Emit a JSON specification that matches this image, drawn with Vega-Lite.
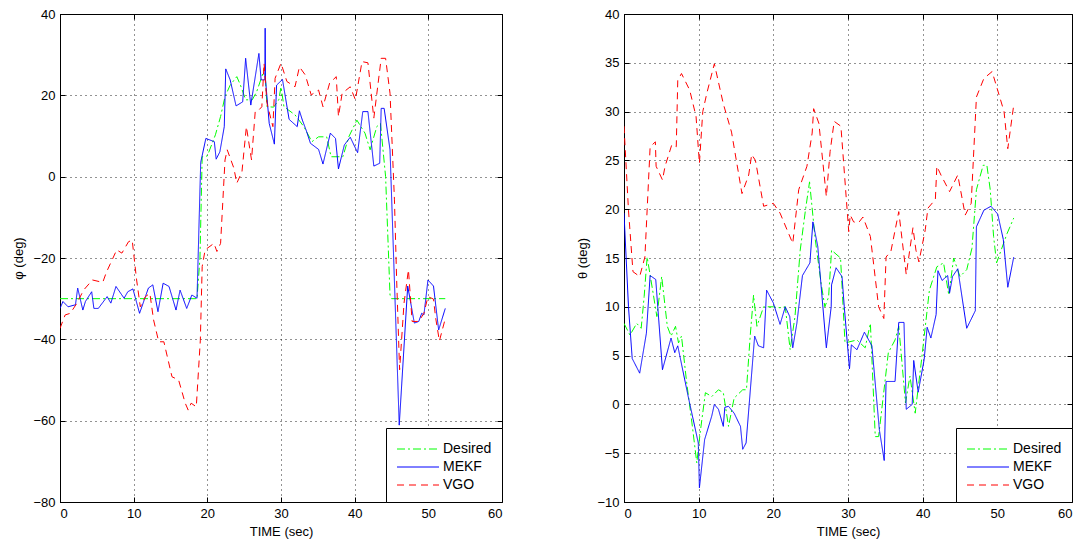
{
  "$schema": "https://vega.github.io/schema/vega-lite/v6.json",
  "background": "white",
  "padding": {"left": 12, "top": 7, "right": 0, "bottom": 5},
  "spacing": 73,
  "config": {
    "font": "Liberation Sans",
    "view": {"stroke": "black", "strokeWidth": 1},
    "axis": {
      "domain": true, "domainColor": "black",
      "grid": true, "gridColor": "black", "gridDash": [1, 4], "gridOpacity": 0.85,
      "tickColor": "black", "tickSize": -5,
      "labelFont": "Liberation Sans", "labelFontSize": 13, "labelColor": "black", "labelPadding": 10,
      "titleFont": "Liberation Sans", "titleFontSize": 13, "titleFontWeight": "normal", "titleColor": "black"
    },
    "axisY": {"titlePadding": 7},
    "axisX": {"titlePadding": 5},
    "legend": {
      "orient": "bottom-right", "offset": 0, "strokeColor": "black", "fillColor": "white",
      "padding": 10, "labelFontSize": 14, "labelFont": "Liberation Sans", "labelColor": "black",
      "symbolType": "M-2,0H2", "symbolSize": 441, "symbolStrokeWidth": 1,
      "symbolOffset": 11, "labelOffset": 14, "rowPadding": 0
    }
  },
  "datasets": {
    "phi": [
      {"s":"Desired","t":0,"v":-30},{"s":"Desired","t":18.6,"v":-30},{"s":"Desired","t":19.0,"v":-20},{"s":"Desired","t":19.3,"v":4.9},{"s":"Desired","t":20.0,"v":5.1},{"s":"Desired","t":21.1,"v":10.3},{"s":"Desired","t":21.8,"v":14.8},{"s":"Desired","t":22.4,"v":19.7},{"s":"Desired","t":23.1,"v":22.5},{"s":"Desired","t":24.0,"v":24.6},{"s":"Desired","t":24.5,"v":22.5},{"s":"Desired","t":25.2,"v":18.9},{"s":"Desired","t":26.1,"v":18.9},{"s":"Desired","t":26.7,"v":20.9},{"s":"Desired","t":27.4,"v":24.6},{"s":"Desired","t":27.8,"v":27},{"s":"Desired","t":28.1,"v":17.2},{"s":"Desired","t":29.0,"v":17.1},{"s":"Desired","t":29.7,"v":18.9},{"s":"Desired","t":30.0,"v":22.1},{"s":"Desired","t":30.4,"v":17.2},{"s":"Desired","t":31.9,"v":15.2},{"s":"Desired","t":33.1,"v":12.3},{"s":"Desired","t":34.2,"v":8.6},{"s":"Desired","t":35.1,"v":9.8},{"s":"Desired","t":36.2,"v":9.8},{"s":"Desired","t":36.8,"v":4.9},{"s":"Desired","t":38.4,"v":4.9},{"s":"Desired","t":39.2,"v":9.8},{"s":"Desired","t":40.3,"v":13.9},{"s":"Desired","t":41.4,"v":10.7},{"s":"Desired","t":42.1,"v":6.6},{"s":"Desired","t":43.0,"v":12.3},{"s":"Desired","t":43.5,"v":13.1},{"s":"Desired","t":44.2,"v":0},{"s":"Desired","t":44.8,"v":-29.1},{"s":"Desired","t":45.0,"v":-30},{"s":"Desired","t":52.3,"v":-30},
      {"s":"MEKF","t":0,"v":-32.4},{"s":"MEKF","t":0.4,"v":-30.7},{"s":"MEKF","t":1.1,"v":-32.0},{"s":"MEKF","t":2.1,"v":-31.5},{"s":"MEKF","t":2.4,"v":-27.4},{"s":"MEKF","t":3.1,"v":-32.8},{"s":"MEKF","t":3.45,"v":-30.7},{"s":"MEKF","t":4.3,"v":-28.3},{"s":"MEKF","t":4.6,"v":-32.4},{"s":"MEKF","t":5.2,"v":-32.4},{"s":"MEKF","t":6.4,"v":-29.5},{"s":"MEKF","t":6.9,"v":-31.1},{"s":"MEKF","t":7.6,"v":-27.0},{"s":"MEKF","t":8.7,"v":-29.9},{"s":"MEKF","t":9.2,"v":-28.3},{"s":"MEKF","t":9.9,"v":-27.6},{"s":"MEKF","t":10.8,"v":-33.6},{"s":"MEKF","t":12.0,"v":-27.4},{"s":"MEKF","t":12.6,"v":-26.6},{"s":"MEKF","t":13.3,"v":-33.2},{"s":"MEKF","t":14.0,"v":-26.2},{"s":"MEKF","t":14.8,"v":-27.0},{"s":"MEKF","t":15.75,"v":-32.8},{"s":"MEKF","t":16.3,"v":-27.9},{"s":"MEKF","t":17.2,"v":-32.4},{"s":"MEKF","t":17.9,"v":-29.1},{"s":"MEKF","t":18.6,"v":-29.9},{"s":"MEKF","t":19.1,"v":3.5},{"s":"MEKF","t":19.8,"v":9.4},{"s":"MEKF","t":20.95,"v":8.6},{"s":"MEKF","t":21.2,"v":4.3},{"s":"MEKF","t":21.7,"v":6.1},{"s":"MEKF","t":22.3,"v":12.3},{"s":"MEKF","t":22.5,"v":26.5},{"s":"MEKF","t":23.1,"v":23.8},{"s":"MEKF","t":23.9,"v":17.4},{"s":"MEKF","t":24.8,"v":18.4},{"s":"MEKF","t":25.2,"v":29.1},{"s":"MEKF","t":25.9,"v":17.6},{"s":"MEKF","t":27.0,"v":30.3},{"s":"MEKF","t":27.3,"v":23.8},{"s":"MEKF","t":27.8,"v":23.8},{"s":"MEKF","t":27.85,"v":36.5},{"s":"MEKF","t":27.9,"v":23.8},{"s":"MEKF","t":28.4,"v":13.1},{"s":"MEKF","t":29.1,"v":8.0},{"s":"MEKF","t":29.4,"v":22.5},{"s":"MEKF","t":30.2,"v":23.9},{"s":"MEKF","t":31.1,"v":14.1},{"s":"MEKF","t":32.2,"v":12.3},{"s":"MEKF","t":32.5,"v":16.2},{"s":"MEKF","t":32.9,"v":13.9},{"s":"MEKF","t":33.4,"v":11.5},{"s":"MEKF","t":34.0,"v":8.2},{"s":"MEKF","t":35.1,"v":6.7},{"s":"MEKF","t":35.7,"v":3.1},{"s":"MEKF","t":36.7,"v":10.7},{"s":"MEKF","t":37.4,"v":9.4},{"s":"MEKF","t":37.8,"v":1.9},{"s":"MEKF","t":38.6,"v":7.8},{"s":"MEKF","t":39.4,"v":9.7},{"s":"MEKF","t":40.4,"v":5.9},{"s":"MEKF","t":41.1,"v":16.0},{"s":"MEKF","t":41.8,"v":16.0},{"s":"MEKF","t":42.6,"v":2.6},{"s":"MEKF","t":43.4,"v":3.3},{"s":"MEKF","t":43.6,"v":16.8},{"s":"MEKF","t":44.0,"v":16.8},{"s":"MEKF","t":44.8,"v":6.6},{"s":"MEKF","t":46.05,"v":-61.1},{"s":"MEKF","t":47.2,"v":-26.9},{"s":"MEKF","t":48.1,"v":-36.0},{"s":"MEKF","t":48.7,"v":-35.6},{"s":"MEKF","t":49.1,"v":-33.6},{"s":"MEKF","t":49.4,"v":-34.0},{"s":"MEKF","t":49.95,"v":-25.4},{"s":"MEKF","t":50.7,"v":-26.9},{"s":"MEKF","t":51.4,"v":-37.7},{"s":"MEKF","t":52.3,"v":-32.4},
      {"s":"VGO","t":0,"v":-37.3},{"s":"VGO","t":0.7,"v":-34.0},{"s":"VGO","t":1.4,"v":-33.6},{"s":"VGO","t":2.3,"v":-31.1},{"s":"VGO","t":3.2,"v":-27.9},{"s":"VGO","t":4.4,"v":-25.4},{"s":"VGO","t":5.8,"v":-26.0},{"s":"VGO","t":6.3,"v":-23.5},{"s":"VGO","t":7.7,"v":-18.0},{"s":"VGO","t":8.4,"v":-18.8},{"s":"VGO","t":9.3,"v":-16.0},{"s":"VGO","t":9.8,"v":-15.6},{"s":"VGO","t":10.4,"v":-25.4},{"s":"VGO","t":10.9,"v":-32.0},{"s":"VGO","t":11.6,"v":-29.5},{"s":"VGO","t":12.2,"v":-28.7},{"s":"VGO","t":12.7,"v":-35.2},{"s":"VGO","t":13.4,"v":-40.6},{"s":"VGO","t":14.1,"v":-40.6},{"s":"VGO","t":15.2,"v":-49.2},{"s":"VGO","t":16.1,"v":-50.0},{"s":"VGO","t":17.0,"v":-55.7},{"s":"VGO","t":17.4,"v":-57.4},{"s":"VGO","t":17.8,"v":-55.7},{"s":"VGO","t":18.5,"v":-56.6},{"s":"VGO","t":19.05,"v":-40.2},{"s":"VGO","t":19.3,"v":-22.1},{"s":"VGO","t":19.7,"v":-18.0},{"s":"VGO","t":20.9,"v":-16.4},{"s":"VGO","t":21.3,"v":-18.4},{"s":"VGO","t":21.8,"v":-16.4},{"s":"VGO","t":22.4,"v":4.1},{"s":"VGO","t":22.7,"v":6.6},{"s":"VGO","t":23.6,"v":2.1},{"s":"VGO","t":24.0,"v":-1.6},{"s":"VGO","t":24.7,"v":1.2},{"s":"VGO","t":25.3,"v":12.3},{"s":"VGO","t":26.0,"v":4.1},{"s":"VGO","t":26.5,"v":16.0},{"s":"VGO","t":27.0,"v":16.4},{"s":"VGO","t":27.4,"v":17.2},{"s":"VGO","t":27.7,"v":27.9},{"s":"VGO","t":28.1,"v":18.0},{"s":"VGO","t":28.9,"v":12.3},{"s":"VGO","t":29.2,"v":24.2},{"s":"VGO","t":30.0,"v":27.9},{"s":"VGO","t":30.8,"v":23.4},{"s":"VGO","t":31.9,"v":22.1},{"s":"VGO","t":32.5,"v":27.0},{"s":"VGO","t":33.3,"v":25.0},{"s":"VGO","t":34.1,"v":20.1},{"s":"VGO","t":35.1,"v":21.3},{"s":"VGO","t":35.7,"v":17.2},{"s":"VGO","t":36.6,"v":23.0},{"s":"VGO","t":37.5,"v":24.6},{"s":"VGO","t":37.8,"v":14.8},{"s":"VGO","t":38.3,"v":20.5},{"s":"VGO","t":39.4,"v":22.1},{"s":"VGO","t":40.1,"v":18.9},{"s":"VGO","t":41.0,"v":28.3},{"s":"VGO","t":41.8,"v":28.0},{"s":"VGO","t":42.6,"v":14.4},{"s":"VGO","t":43.6,"v":29.1},{"s":"VGO","t":44.2,"v":29.1},{"s":"VGO","t":44.8,"v":20.5},{"s":"VGO","t":45.4,"v":-5.7},{"s":"VGO","t":45.7,"v":-25.4},{"s":"VGO","t":46.1,"v":-47.5},{"s":"VGO","t":46.7,"v":-31.1},{"s":"VGO","t":47.3,"v":-22.9},{"s":"VGO","t":47.8,"v":-35.6},{"s":"VGO","t":48.7,"v":-35.6},{"s":"VGO","t":49.4,"v":-33.6},{"s":"VGO","t":49.95,"v":-29.5},{"s":"VGO","t":50.7,"v":-30.1},{"s":"VGO","t":51.0,"v":-34.8},{"s":"VGO","t":51.5,"v":-40.4},{"s":"VGO","t":52.2,"v":-35.6}
    ],
    "theta": [
      {"s":"Desired","t":0,"v":8.3},{"s":"Desired","t":0.8,"v":7.1},{"s":"Desired","t":1.7,"v":8.3},{"s":"Desired","t":2.3,"v":7.8},{"s":"Desired","t":2.7,"v":11.05},{"s":"Desired","t":3.1,"v":15.1},{"s":"Desired","t":3.9,"v":11.4},{"s":"Desired","t":4.4,"v":9.0},{"s":"Desired","t":5.05,"v":13.1},{"s":"Desired","t":5.8,"v":8.0},{"s":"Desired","t":6.3,"v":7.0},{"s":"Desired","t":6.9,"v":8.0},{"s":"Desired","t":7.3,"v":6.3},{"s":"Desired","t":7.7,"v":7.0},{"s":"Desired","t":8.4,"v":2.2},{"s":"Desired","t":9.1,"v":-1.9},{"s":"Desired","t":9.75,"v":-6.0},{"s":"Desired","t":10.2,"v":-2.9},{"s":"Desired","t":10.9,"v":1.2},{"s":"Desired","t":11.75,"v":0.8},{"s":"Desired","t":12.65,"v":1.5},{"s":"Desired","t":13.3,"v":1.2},{"s":"Desired","t":14.0,"v":-2.25},{"s":"Desired","t":14.75,"v":0.65},{"s":"Desired","t":15.9,"v":1.5},{"s":"Desired","t":16.4,"v":1.5},{"s":"Desired","t":16.9,"v":7.0},{"s":"Desired","t":17.35,"v":11.2},{"s":"Desired","t":17.8,"v":8.0},{"s":"Desired","t":18.7,"v":10.0},{"s":"Desired","t":20.0,"v":10.0},{"s":"Desired","t":20.9,"v":9.9},{"s":"Desired","t":21.6,"v":10.0},{"s":"Desired","t":22.25,"v":5.6},{"s":"Desired","t":22.9,"v":9.0},{"s":"Desired","t":23.6,"v":15.8},{"s":"Desired","t":24.3,"v":19.9},{"s":"Desired","t":24.85,"v":22.8},{"s":"Desired","t":25.6,"v":17.0},{"s":"Desired","t":26.4,"v":12.4},{"s":"Desired","t":26.9,"v":10.0},{"s":"Desired","t":27.4,"v":11.0},{"s":"Desired","t":27.8,"v":15.8},{"s":"Desired","t":29.0,"v":15.0},{"s":"Desired","t":29.6,"v":6.3},{"s":"Desired","t":31.2,"v":6.6},{"s":"Desired","t":32.3,"v":5.8},{"s":"Desired","t":33.0,"v":8.3},{"s":"Desired","t":33.65,"v":-3.3},{"s":"Desired","t":34.1,"v":-3.3},{"s":"Desired","t":35.4,"v":5.3},{"s":"Desired","t":36.3,"v":6.6},{"s":"Desired","t":36.8,"v":8.0},{"s":"Desired","t":37.7,"v":0.15},{"s":"Desired","t":38.3,"v":2.9},{"s":"Desired","t":39.0,"v":-0.9},{"s":"Desired","t":39.9,"v":4.9},{"s":"Desired","t":40.9,"v":11.7},{"s":"Desired","t":41.9,"v":14.1},{"s":"Desired","t":42.8,"v":14.5},{"s":"Desired","t":43.5,"v":11.2},{"s":"Desired","t":44.15,"v":15.0},{"s":"Desired","t":45.0,"v":13.1},{"s":"Desired","t":45.9,"v":13.8},{"s":"Desired","t":46.6,"v":16.0},{"s":"Desired","t":47.2,"v":22.0},{"s":"Desired","t":48.1,"v":24.5},{"s":"Desired","t":48.6,"v":24.5},{"s":"Desired","t":49.05,"v":22.0},{"s":"Desired","t":49.5,"v":17.2},{"s":"Desired","t":49.9,"v":14.5},{"s":"Desired","t":51.3,"v":17.5},{"s":"Desired","t":52.2,"v":19.1},
      {"s":"MEKF","t":0,"v":19.6},{"s":"MEKF","t":0.6,"v":10.0},{"s":"MEKF","t":1.1,"v":4.7},{"s":"MEKF","t":2.1,"v":3.2},{"s":"MEKF","t":3.0,"v":7.3},{"s":"MEKF","t":3.5,"v":13.2},{"s":"MEKF","t":4.25,"v":12.8},{"s":"MEKF","t":5.15,"v":3.55},{"s":"MEKF","t":6.3,"v":6.8},{"s":"MEKF","t":6.8,"v":5.3},{"s":"MEKF","t":7.2,"v":6.0},{"s":"MEKF","t":8.6,"v":0.8},{"s":"MEKF","t":9.95,"v":-3.95},{"s":"MEKF","t":10.1,"v":-8.55},{"s":"MEKF","t":10.8,"v":-3.6},{"s":"MEKF","t":11.75,"v":-1.2},{"s":"MEKF","t":12.1,"v":0},{"s":"MEKF","t":12.65,"v":-0.5},{"s":"MEKF","t":13.3,"v":-2.25},{"s":"MEKF","t":13.5,"v":-0.3},{"s":"MEKF","t":14.0,"v":-0.2},{"s":"MEKF","t":14.75,"v":-0.9},{"s":"MEKF","t":15.6,"v":-2.25},{"s":"MEKF","t":15.9,"v":-4.6},{"s":"MEKF","t":16.35,"v":-3.95},{"s":"MEKF","t":17.5,"v":7.0},{"s":"MEKF","t":18.0,"v":6.0},{"s":"MEKF","t":18.7,"v":5.8},{"s":"MEKF","t":19.1,"v":11.7},{"s":"MEKF","t":20.0,"v":10.4},{"s":"MEKF","t":20.9,"v":8.2},{"s":"MEKF","t":21.6,"v":10.0},{"s":"MEKF","t":22.2,"v":9.0},{"s":"MEKF","t":22.6,"v":5.8},{"s":"MEKF","t":23.15,"v":8.3},{"s":"MEKF","t":23.9,"v":13.2},{"s":"MEKF","t":24.9,"v":14.5},{"s":"MEKF","t":25.3,"v":18.7},{"s":"MEKF","t":25.95,"v":16.2},{"s":"MEKF","t":27.1,"v":5.8},{"s":"MEKF","t":27.75,"v":10.0},{"s":"MEKF","t":27.8,"v":12.25},{"s":"MEKF","t":28.4,"v":14.0},{"s":"MEKF","t":29.2,"v":13.1},{"s":"MEKF","t":29.5,"v":10.0},{"s":"MEKF","t":30.2,"v":3.65},{"s":"MEKF","t":30.45,"v":6.1},{"s":"MEKF","t":31.2,"v":5.6},{"s":"MEKF","t":32.2,"v":7.4},{"s":"MEKF","t":33.2,"v":6.0},{"s":"MEKF","t":34.2,"v":-2.6},{"s":"MEKF","t":34.85,"v":-5.75},{"s":"MEKF","t":35.1,"v":2.35},{"s":"MEKF","t":36.3,"v":2.35},{"s":"MEKF","t":36.8,"v":8.4},{"s":"MEKF","t":37.5,"v":8.4},{"s":"MEKF","t":37.8,"v":-0.5},{"s":"MEKF","t":38.6,"v":0},{"s":"MEKF","t":38.8,"v":4.5},{"s":"MEKF","t":39.4,"v":1.25},{"s":"MEKF","t":40.2,"v":4.6},{"s":"MEKF","t":40.6,"v":7.9},{"s":"MEKF","t":41.1,"v":6.8},{"s":"MEKF","t":41.8,"v":9.2},{"s":"MEKF","t":42.05,"v":13.7},{"s":"MEKF","t":42.6,"v":12.7},{"s":"MEKF","t":43.35,"v":13.2},{"s":"MEKF","t":43.6,"v":11.4},{"s":"MEKF","t":44.0,"v":13.1},{"s":"MEKF","t":44.7,"v":13.9},{"s":"MEKF","t":45.9,"v":7.8},{"s":"MEKF","t":47.05,"v":9.6},{"s":"MEKF","t":47.2,"v":18.2},{"s":"MEKF","t":48.2,"v":19.9},{"s":"MEKF","t":49.15,"v":20.3},{"s":"MEKF","t":50.05,"v":19.5},{"s":"MEKF","t":50.8,"v":16.9},{"s":"MEKF","t":51.4,"v":12.0},{"s":"MEKF","t":52.2,"v":15.1},
      {"s":"VGO","t":0,"v":28.5},{"s":"VGO","t":0.6,"v":19.9},{"s":"VGO","t":1.2,"v":13.6},{"s":"VGO","t":2.1,"v":13.1},{"s":"VGO","t":2.8,"v":15.1},{"s":"VGO","t":3.5,"v":26.4},{"s":"VGO","t":4.2,"v":26.9},{"s":"VGO","t":4.3,"v":24.4},{"s":"VGO","t":5.15,"v":23.0},{"s":"VGO","t":5.5,"v":24.4},{"s":"VGO","t":6.4,"v":26.6},{"s":"VGO","t":7.0,"v":26.4},{"s":"VGO","t":7.2,"v":33.2},{"s":"VGO","t":7.7,"v":33.9},{"s":"VGO","t":8.8,"v":32.2},{"s":"VGO","t":9.65,"v":29.5},{"s":"VGO","t":10.1,"v":24.7},{"s":"VGO","t":10.55,"v":30.0},{"s":"VGO","t":11.1,"v":31.9},{"s":"VGO","t":12.1,"v":34.9},{"s":"VGO","t":13.3,"v":30.8},{"s":"VGO","t":14.4,"v":27.9},{"s":"VGO","t":15.8,"v":21.6},{"s":"VGO","t":16.7,"v":23.5},{"s":"VGO","t":17.1,"v":25.6},{"s":"VGO","t":17.6,"v":25.0},{"s":"VGO","t":18.7,"v":20.3},{"s":"VGO","t":20.0,"v":20.6},{"s":"VGO","t":20.9,"v":19.6},{"s":"VGO","t":22.6,"v":16.5},{"s":"VGO","t":23.4,"v":22.0},{"s":"VGO","t":24.5,"v":24.4},{"s":"VGO","t":25.2,"v":27.8},{"s":"VGO","t":25.4,"v":30.3},{"s":"VGO","t":26.1,"v":28.8},{"s":"VGO","t":27.1,"v":21.3},{"s":"VGO","t":27.6,"v":25.9},{"s":"VGO","t":28.15,"v":29.0},{"s":"VGO","t":29.05,"v":28.5},{"s":"VGO","t":30.1,"v":17.7},{"s":"VGO","t":30.3,"v":19.4},{"s":"VGO","t":30.75,"v":18.7},{"s":"VGO","t":31.4,"v":18.6},{"s":"VGO","t":32.0,"v":19.2},{"s":"VGO","t":33.0,"v":17.2},{"s":"VGO","t":34.1,"v":10.0},{"s":"VGO","t":34.8,"v":8.8},{"s":"VGO","t":35.1,"v":15.1},{"s":"VGO","t":35.75,"v":15.7},{"s":"VGO","t":36.8,"v":19.75},{"s":"VGO","t":37.8,"v":13.3},{"s":"VGO","t":38.7,"v":18.1},{"s":"VGO","t":39.1,"v":15.8},{"s":"VGO","t":39.5,"v":14.6},{"s":"VGO","t":40.35,"v":17.9},{"s":"VGO","t":40.7,"v":20.1},{"s":"VGO","t":41.7,"v":21.0},{"s":"VGO","t":41.9,"v":24.4},{"s":"VGO","t":42.45,"v":23.5},{"s":"VGO","t":43.6,"v":21.8},{"s":"VGO","t":44.7,"v":23.5},{"s":"VGO","t":45.7,"v":19.4},{"s":"VGO","t":46.5,"v":20.6},{"s":"VGO","t":47.2,"v":31.5},{"s":"VGO","t":48.2,"v":33.4},{"s":"VGO","t":49.3,"v":34.1},{"s":"VGO","t":50.9,"v":30.0},{"s":"VGO","t":51.4,"v":26.2},{"s":"VGO","t":52.2,"v":30.7}
    ]
  },
  "hconcat": [
    {
      "width": 442, "height": 488,
      "data": {"name": "phi"},
      "layer": [
        {
          "mark": {"type": "line", "strokeWidth": 1, "clip": true},
          "encoding": {
            "x": {"field": "t", "type": "quantitative", "title": "TIME (sec)", "scale": {"domain": [0, 60], "nice": false}, "axis": {"values": [0,10,20,30,40,50,60]}},
            "y": {"field": "v", "type": "quantitative", "title": "φ (deg)", "scale": {"domain": [-80, 40], "nice": false}, "axis": {"values": [-80,-60,-40,-20,0,20,40]}},
            "color": {"field": "s", "type": "nominal", "scale": {"domain": ["Desired","MEKF","VGO"], "range": ["#00ff00","#0000ff","#ff0000"]}, "legend": {"title": null}},
            "strokeDash": {"field": "s", "type": "nominal", "scale": {"domain": ["Desired","MEKF","VGO"], "range": [[8,3,2,3],[1,0],[7,5]]}, "legend": {"title": null}}
          }
        },
        {
          "mark": {"type": "point", "opacity": 0},
          "encoding": {
            "x": {"field": "t", "type": "quantitative", "scale": {"domain": [0, 60], "nice": false}, "axis": {"orient": "top", "values": [0,10,20,30,40,50,60], "labels": false, "title": null, "grid": false, "domain": false}},
            "y": {"field": "v", "type": "quantitative", "scale": {"domain": [-80, 40], "nice": false}, "axis": {"orient": "right", "values": [-80,-60,-40,-20,0,20,40], "labels": false, "title": null, "grid": false, "domain": false}}
          }
        }
      ],
      "resolve": {"axis": {"x": "independent", "y": "independent"}}
    },
    {
      "width": 448, "height": 488,
      "data": {"name": "theta"},
      "layer": [
        {
          "mark": {"type": "line", "strokeWidth": 1, "clip": true},
          "encoding": {
            "x": {"field": "t", "type": "quantitative", "title": "TIME (sec)", "scale": {"domain": [0, 60], "nice": false}, "axis": {"values": [0,10,20,30,40,50,60]}},
            "y": {"field": "v", "type": "quantitative", "title": "θ (deg)", "scale": {"domain": [-10, 40], "nice": false}, "axis": {"values": [-10,-5,0,5,10,15,20,25,30,35,40]}},
            "color": {"field": "s", "type": "nominal", "scale": {"domain": ["Desired","MEKF","VGO"], "range": ["#00ff00","#0000ff","#ff0000"]}, "legend": {"title": null}},
            "strokeDash": {"field": "s", "type": "nominal", "scale": {"domain": ["Desired","MEKF","VGO"], "range": [[8,3,2,3],[1,0],[7,5]]}, "legend": {"title": null}}
          }
        },
        {
          "mark": {"type": "point", "opacity": 0},
          "encoding": {
            "x": {"field": "t", "type": "quantitative", "scale": {"domain": [0, 60], "nice": false}, "axis": {"orient": "top", "values": [0,10,20,30,40,50,60], "labels": false, "title": null, "grid": false, "domain": false}},
            "y": {"field": "v", "type": "quantitative", "scale": {"domain": [-10, 40], "nice": false}, "axis": {"orient": "right", "values": [-10,-5,0,5,10,15,20,25,30,35,40], "labels": false, "title": null, "grid": false, "domain": false}}
          }
        }
      ],
      "resolve": {"axis": {"x": "independent", "y": "independent"}}
    }
  ],
  "resolve": {"scale": {"color": "independent", "strokeDash": "independent"}, "legend": {"color": "independent", "strokeDash": "independent"}}
}
